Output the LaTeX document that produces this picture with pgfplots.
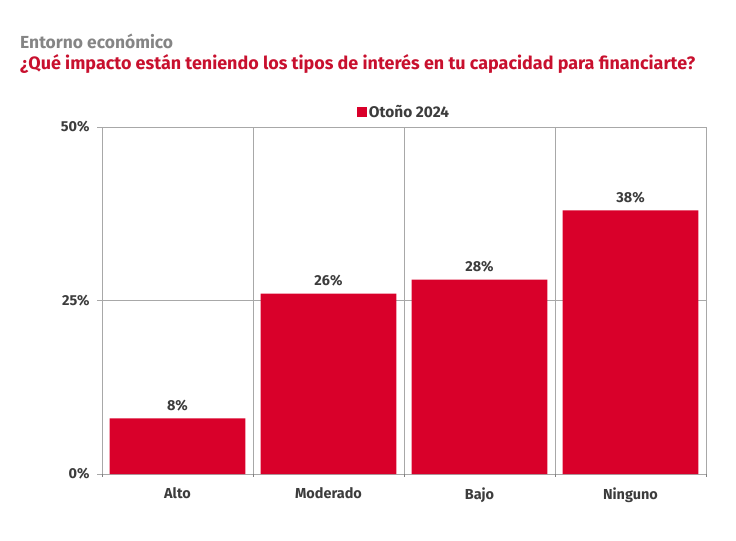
\documentclass[border=0pt]{standalone}
\usepackage{pgfplots}
\pgfplotsset{compat=1.18}
\usepackage{fontspec}
\setmainfont{Fira Sans}
\definecolor{sred}{HTML}{D9002A}
\definecolor{tred}{HTML}{C8102E}
\definecolor{txtgray}{HTML}{3C3C3C}
\definecolor{subgray}{HTML}{858585}
\definecolor{gridgray}{HTML}{A8A8A8}
\begin{document}
\begin{tikzpicture}[x=1bp,y=1bp]
\path[use as bounding box] (0,0) rectangle (736,-541);
\node[anchor=west,text=subgray,font=\fontsize{17.5}{20}\selectfont\bfseries,inner sep=0pt] at (20,-41) {Entorno económico};
\node[anchor=west,text=tred,font=\fontsize{18}{21}\selectfont\bfseries,inner sep=0pt] at (20,-64) {¿Qué impacto están teniendo los tipos de interés en tu capacidad para financiarte?};
\begin{axis}[
  at={(102bp,-474bp)}, anchor=origin,
  scale only axis, width=604bp, height=347bp,
  xmin=0, xmax=4, ymin=0, ymax=50,
  ybar, bar width=0.9,
  axis line style={draw=none},
  tick pos=left,
  xtick={0.5,1.5,2.5,3.5},
  xticklabels={Alto,Moderado,Bajo,Ninguno},
  major x tick style={draw=none},
  minor xtick={0,1,2,3,4},
  xminorgrids, minor x grid style={gridgray,line width=0.6pt},
  extra x ticks={0,1,2,3,4}, extra x tick labels={},
  extra x tick style={grid=none, major tick length=7bp, tick align=outside, tick style={gridgray,line width=0.6pt}},
  ytick={0,25,50},
  yticklabels={0\%,25\%,50\%},
  ymajorgrids, major grid style={gridgray,line width=0.6pt},
  y tick style={gridgray,line width=0.6pt}, major tick length=5bp, tick align=outside,
  tick label style={text=txtgray,font=\fontsize{14.5}{17}\selectfont\bfseries},
  /pgf/number format/assume math mode=true,
  xticklabel style={yshift=-5bp},
  yticklabel style={xshift=-4bp},
  nodes near coords={\pgfmathprintnumber{\pgfplotspointmeta}\%},
  nodes near coords style={text=txtgray,font=\fontsize{14.5}{17}\selectfont\bfseries, yshift=4bp},
  legend style={at={(0.5,1.012)}, anchor=south, draw=none, font=\fontsize{15.5}{18}\selectfont\bfseries, text=txtgray, /tikz/every even column/.append style={column sep=2bp}},
  legend image code/.code={\fill[sred] (-6bp,-5bp) rectangle (4bp,5bp);},
  clip=false,
]
\addplot[fill=sred, draw=none] coordinates {(0.5,8) (1.5,26) (2.5,28) (3.5,38)};
\addlegendentry{Otoño 2024}
\end{axis}
\end{tikzpicture}
\end{document}
